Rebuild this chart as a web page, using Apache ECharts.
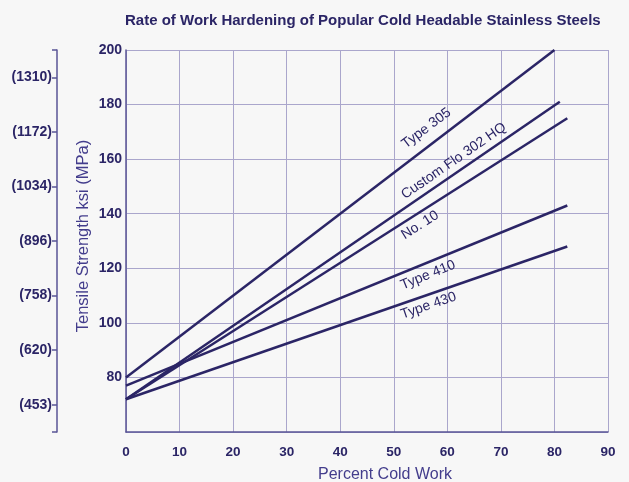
<!DOCTYPE html>
<html>
<head>
<meta charset="utf-8">
<script src="https://cdn.jsdelivr.net/npm/echarts@6/dist/echarts.min.js"></script>
<style>
  html, body { margin: 0; padding: 0; background: #f7f7f7; }
  #chart { width: 629px; height: 482px; }
</style>
</head>
<body>
<div id="chart"></div>
<script>
// percent cold work vs tensile strength (ksi)
var type305 = [[0, 80], [80, 200]];
var customFlo = [[0, 72], [81, 181]];
var no10 = [[0, 72], [82.4, 175]];
var type410 = [[0, 77], [82.4, 143]];
var type430 = [[0, 72], [82.4, 128]];

var seriesNames = ['Type 305', 'Custom Flo 302 HQ', 'No. 10', 'Type 410', 'Type 430'];
// where each name sits (data units) and its angle
var labelPos = [[56.1, 171.3], [61.2, 159.3], [54.9, 135.8], [56.4, 117.5], [56.5, 106.3]];
var labelRot = [37, 34.5, 32.5, 22, 19];

var xTicks = [0, 10, 20, 30, 40, 50, 60, 70, 80, 90];
var ksiTicks = [80, 100, 120, 140, 160, 180, 200];
var mpaAt = [70, 90, 110, 130, 150, 170, 190];
var mpaLabels = ['(453)', '(620)', '(758)', '(896)', '(1034)', '(1172)', '(1310)'];

var navy = '#2b2566';
var gridCol = '#aaa6cc';
var font = 'Liberation Sans, Arial, sans-serif';

var chart = echarts.init(document.getElementById('chart'));

var lines = [type305, customFlo, no10, type410, type430];
var series = lines.map(function (d, i) {
  return {
    name: seriesNames[i],
    type: 'line',
    data: d,
    symbol: 'none',
    lineStyle: { color: navy, width: 2.5 },
    silent: true,
    animation: false,
    markPoint: {
      symbol: 'circle',
      symbolSize: 0,
      silent: true,
      data: [{
        coord: labelPos[i],
        label: {
          show: true,
          formatter: seriesNames[i],
          rotate: labelRot[i],
          color: navy,
          fontSize: 14,
          fontFamily: font
        }
      }]
    }
  };
});

var option = {
  backgroundColor: '#f7f7f7',
  animation: false,
  title: {
    text: 'Rate of Work Hardening of Popular Cold Headable Stainless Steels',
    left: 120,
    top: 8,
    textStyle: {
      color: navy,
      fontSize: 15,
      fontWeight: 'bold',
      fontFamily: font
    }
  },
  grid: { left: 126, right: 21, top: 50, bottom: 50, containLabel: false, outerBoundsMode: 'none' },
  xAxis: {
    type: 'value',
    min: 0,
    max: 90,
    interval: 10,
    name: 'Percent Cold Work',
    nameLocation: 'middle',
    nameGap: 35,
    nameTextStyle: {
      color: '#433d8c',
      fontSize: 16,
      fontFamily: font,
      padding: [0, 0, 0, 36]
    },
    axisLine: { show: true, lineStyle: { color: '#5a5596', width: 1.5 } },
    axisTick: { show: false },
    axisLabel: {
      margin: 13,
      color: navy,
      fontSize: 13.5,
      fontWeight: 'bold',
      fontFamily: font
    },
    splitLine: { show: true, lineStyle: { color: gridCol, width: 1 } }
  },
  yAxis: [
    {
      type: 'value',
      min: 60,
      max: 200,
      interval: 20,
      name: 'Tensile Strength ksi (MPa)',
      nameLocation: 'middle',
      nameGap: 34,
      nameMoveOverlap: false,
      nameTextStyle: {
        color: '#433d8c',
        fontSize: 16.5,
        fontFamily: font,
        padding: [0, 0, 0, 10]
      },
      axisLine: { show: true, lineStyle: { color: '#5a5596', width: 1.5 } },
      axisTick: { show: false },
      axisLabel: {
        margin: 4,
        color: navy,
        fontSize: 14,
        fontWeight: 'bold',
        fontFamily: font,
        customValues: ksiTicks
      },
      splitLine: { show: true, lineStyle: { color: gridCol, width: 1 } }
    },
    {
      type: 'value',
      min: 60,
      max: 200,
      position: 'left',
      offset: 69,
      axisLine: { show: true, lineStyle: { color: '#5a5596', width: 1.5 } },
      axisTick: {
        show: true,
        length: 5,
        lineStyle: { color: '#5a5596', width: 1.5 },
        customValues: [60].concat(mpaAt).concat([200])
      },
      axisLabel: {
        margin: 5,
        color: navy,
        fontSize: 14,
        fontWeight: 'bold',
        fontFamily: font,
        customValues: mpaAt,
        formatter: function (v) {
          var k = mpaAt.indexOf(v);
          return k >= 0 ? mpaLabels[k] : '';
        }
      },
      splitLine: { show: false }
    }
  ],
  series: series
};

chart.setOption(option);
window.addEventListener('resize', function () {
  chart.resize();
});
</script>
</body>
</html>
